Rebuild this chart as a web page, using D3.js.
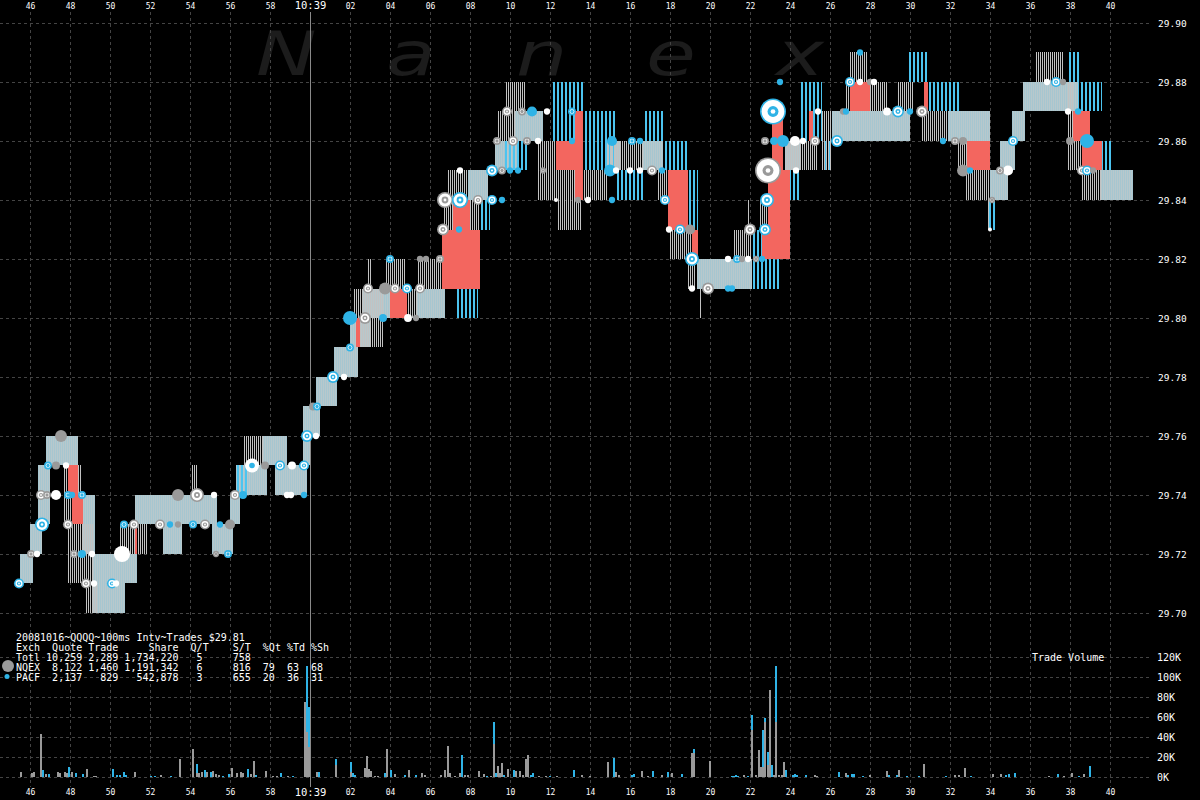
<!DOCTYPE html>
<html><head><meta charset="utf-8">
<script src="https://cdn.jsdelivr.net/npm/d3@7"></script>
<style>html,body{margin:0;padding:0;background:#000;}svg{display:block;}</style>
</head><body>
<script>
// ---------- data (time = seconds after 10:39:00) ----------
const tickTimes = [-14,-12,-10,-8,-6,-4,-2,0,2,4,6,8,10,12,14,16,18,20,22,24,26,28,30,32,34,36,38,40];
const tickLabels = ["46","48","50","52","54","56","58","10:39","02","04","06","08","10","12","14","16","18","20","22","24","26","28","30","32","34","36","38","40"];
const priceTicks = [29.70,29.72,29.74,29.76,29.78,29.80,29.82,29.84,29.86,29.88,29.90];
const volumeTicks = [0,20000,40000,60000,80000,100000,120000];
const volumeTickLabels = ["0K","20K","40K","60K","80K","100K","120K"];

// quote bands: [start, end, low, high, who]  who: b = both exchanges, g = NQEX, c = PACF
const quoteBands = [
[-14.5,-13.85,29.71,29.72,'b'],[-14.0,-13.4,29.72,29.73,'b'],[-13.6,-13.0,29.73,29.75,'b'],
[-13.2,-11.6,29.75,29.76,'b'],[-12.3,-11.4,29.73,29.75,'g'],[-11.35,-10.75,29.72,29.74,'b'],
[-12.1,-10.85,29.71,29.73,'g'],[-11.25,-10.65,29.70,29.71,'g'],[-10.85,-9.25,29.70,29.71,'b'],
[-10.85,-8.65,29.71,29.72,'b'],[-9.5,-8.1,29.72,29.73,'g'],[-8.75,-4.65,29.73,29.74,'b'],
[-7.35,-6.4,29.72,29.73,'b'],[-5.9,-5.6,29.74,29.75,'g'],[-4.9,-3.85,29.72,29.73,'b'],
[-4.0,-3.5,29.73,29.74,'b'],[-3.75,-3.1,29.74,29.75,'c'],[-3.7,-2.15,29.74,29.75,'b'],
[-3.35,-2.35,29.75,29.76,'g'],[-2.35,-1.15,29.75,29.76,'b'],[-1.75,-0.15,29.74,29.75,'b'],
[-0.35,0.0,29.75,29.77,'b'],[-0.25,0.5,29.76,29.77,'b'],[0.3,1.35,29.77,29.78,'b'],
[1.2,2.4,29.78,29.79,'b'],[2.0,3.0,29.79,29.80,'b'],[2.2,2.8,29.80,29.81,'g'],
[2.35,3.65,29.79,29.81,'g'],[2.6,4.0,29.80,29.81,'b'],[2.9,3.1,29.81,29.82,'g'],
[3.75,4.75,29.81,29.82,'g'],[4.75,5.4,29.80,29.81,'g'],[5.35,6.75,29.80,29.81,'b'],
[5.4,6.6,29.81,29.82,'g'],[6.65,7.2,29.83,29.84,'g'],[6.9,7.9,29.84,29.85,'g'],
[7.35,8.4,29.80,29.82,'c'],[8.0,8.5,29.83,29.84,'g'],[7.9,8.9,29.84,29.85,'b'],
[8.5,9.0,29.83,29.84,'c'],[9.25,10.35,29.85,29.86,'b'],[9.65,10.85,29.85,29.86,'c'],
[9.4,10.25,29.86,29.87,'g'],[9.75,10.75,29.87,29.88,'g'],[10.25,11.65,29.86,29.87,'b'],
[11.4,12.35,29.84,29.86,'g'],[12.15,13.65,29.86,29.88,'c'],[12.35,13.6,29.83,29.85,'g'],
[13.65,15.35,29.86,29.87,'c'],[13.65,14.85,29.84,29.85,'g'],[13.65,15.3,29.85,29.86,'c'],
[14.85,16.65,29.85,29.86,'g'],[14.85,15.5,29.85,29.86,'b'],[15.25,16.65,29.84,29.85,'c'],
[16.65,17.65,29.86,29.87,'c'],[16.65,17.65,29.85,29.86,'b'],[17.4,17.9,29.84,29.85,'g'],
[17.65,18.9,29.85,29.86,'c'],[18.9,19.4,29.83,29.85,'c'],[18.0,19.1,29.82,29.83,'g'],
[19.35,22.1,29.81,29.82,'b'],[18.9,19.25,29.81,29.82,'g'],[19.5,19.6,29.80,29.81,'g'],
[21.15,22.1,29.82,29.83,'g'],[22.1,23.5,29.81,29.83,'c'],[21.9,22.0,29.83,29.84,'g'],
[22.5,22.9,29.83,29.84,'g'],[23.5,24.5,29.84,29.85,'c'],[23.75,24.5,29.85,29.86,'b'],
[23.75,25.35,29.85,29.86,'g'],[24.5,25.6,29.86,29.88,'c'],[25.6,26.1,29.85,29.87,'g'],
[25.6,26.1,29.85,29.86,'c'],[26.1,27.0,29.86,29.87,'b'],[26.75,28.0,29.87,29.88,'g'],
[27.0,27.9,29.88,29.89,'g'],[26.85,30.0,29.86,29.87,'b'],[28.0,28.85,29.87,29.88,'g'],
[29.4,30.15,29.87,29.88,'g'],[29.85,30.9,29.88,29.89,'c'],[30.9,32.5,29.87,29.88,'c'],
[30.6,31.9,29.86,29.87,'g'],[31.9,34.0,29.86,29.87,'b'],[32.4,32.9,29.85,29.86,'g'],
[32.75,34.0,29.84,29.85,'g'],[33.85,34.0,29.83,29.84,'g'],[33.9,34.25,29.83,29.84,'c'],
[34.0,34.9,29.84,29.85,'b'],[34.5,35.25,29.85,29.86,'b'],[35.1,35.75,29.86,29.87,'b'],
[35.65,36.85,29.87,29.88,'b'],[36.25,37.65,29.88,29.89,'g'],[36.85,38.4,29.87,29.88,'b'],
[37.9,38.5,29.88,29.89,'c'],[37.9,38.2,29.85,29.88,'g'],[38.4,39.6,29.87,29.88,'c'],
[37.95,38.6,29.85,29.86,'g'],[38.6,39.6,29.84,29.85,'g'],[39.6,40.15,29.85,29.86,'c'],
[39.5,41.15,29.84,29.85,'b']
];

// crossed / locked periods: [start, end, low, high]
const crossedBands = [
[-12.1,-11.6,29.74,29.75],[-11.9,-11.35,29.73,29.74],[-8.75,-8.65,29.72,29.73],
[2.3,2.5,29.79,29.80],[4.0,4.85,29.80,29.81],[6.6,8.5,29.81,29.83],[7.15,8.0,29.83,29.84],
[12.3,13.65,29.85,29.86],[13.25,13.65,29.84,29.87],[17.9,18.9,29.83,29.85],
[19.1,19.4,29.82,29.83],[22.6,23.0,29.82,29.83],[22.9,24.0,29.82,29.85],
[23.1,23.65,29.85,29.87],[24.95,25.15,29.86,29.87],[27.0,28.0,29.87,29.88],
[30.7,30.9,29.87,29.88],[32.85,34.0,29.85,29.86],[38.15,39.0,29.86,29.87],[38.6,39.6,29.85,29.86]
];

// trades: [time, price, size, mark]  N/P = NQEX/PACF ring, n/p solid, w white, W white with PACF centre
const trades = [
[-14.55,29.71,1300,'P'],[-13.95,29.72,800,'N'],[-13.65,29.72,500,'w'],[-13.4,29.73,2500,'P'],
[-13.45,29.74,1300,'N'],[-13.15,29.74,800,'N'],[-12.7,29.74,1300,'w'],[-12.1,29.74,800,'P'],[-11.9,29.74,500,'p'],[-11.4,29.74,800,'P'],
[-13.1,29.75,800,'P'],[-12.7,29.75,800,'n'],[-12.2,29.75,500,'w'],[-12.45,29.76,1800,'n'],[-12.1,29.73,1300,'N'],
[-11.8,29.72,800,'N'],[-11.4,29.72,800,'p'],[-10.9,29.72,500,'w'],
[-11.2,29.71,1300,'N'],[-10.8,29.71,500,'w'],[-9.9,29.71,1300,'P'],[-9.7,29.71,500,'w'],[-9.4,29.72,3300,'w'],
[-9.3,29.73,800,'P'],[-8.8,29.73,1300,'N'],[-7.5,29.73,1300,'N'],[-7.0,29.73,500,'p'],[-6.6,29.73,500,'n'],
[-6.6,29.74,1800,'n'],[-5.65,29.74,2500,'N'],[-4.8,29.74,500,'w'],
[-5.85,29.73,800,'P'],[-5.25,29.73,1300,'N'],[-4.5,29.73,500,'p'],[-4.0,29.73,1300,'n'],
[-4.7,29.72,500,'N'],[-4.1,29.72,800,'P'],[-3.75,29.74,1300,'N'],[-3.35,29.74,800,'p'],
[-2.9,29.75,2500,'W'],[-2.25,29.75,800,'n'],[-1.5,29.75,1300,'P'],[-0.9,29.75,800,'w'],[-0.3,29.75,1300,'P'],
[-1.15,29.74,500,'w'],[-0.95,29.74,500,'w'],[-0.3,29.74,500,'p'],
[-0.15,29.76,1800,'P'],[0.3,29.76,500,'w'],[0.15,29.77,800,'n'],[0.35,29.77,800,'P'],
[1.15,29.78,1800,'P'],[1.7,29.78,500,'w'],[2.0,29.79,800,'P'],
[2.0,29.80,2500,'p'],[2.75,29.80,1800,'N'],[3.65,29.80,800,'p'],[4.9,29.80,800,'w'],[5.3,29.80,500,'n'],
[2.9,29.81,1300,'N'],[3.75,29.81,1800,'n'],[4.25,29.81,1300,'N'],[4.85,29.81,1300,'P'],[5.5,29.81,1300,'N'],
[4.0,29.82,800,'P'],[5.5,29.82,500,'n'],[5.8,29.82,500,'n'],[6.5,29.82,800,'N'],
[6.65,29.83,1800,'N'],[7.45,29.83,500,'p'],
[6.75,29.84,3300,'N'],[7.5,29.84,3300,'P'],[8.4,29.84,1300,'N'],[9.1,29.84,1300,'P'],[9.6,29.84,500,'p'],
[7.5,29.85,500,'w'],[9.1,29.85,1800,'P'],[9.6,29.85,800,'N'],[10.0,29.85,500,'p'],[10.4,29.85,500,'p'],
[9.35,29.86,800,'N'],[10.15,29.86,1300,'N'],[10.85,29.86,800,'N'],[11.4,29.86,500,'w'],
[9.85,29.87,1300,'N'],[10.6,29.87,800,'N'],[11.1,29.87,1300,'p'],[11.85,29.87,500,'w'],
[13.1,29.87,800,'P'],[13.1,29.86,500,'p'],[11.65,29.85,500,'N'],
[12.3,29.84,200,'w'],[13.4,29.84,500,'n'],[13.9,29.84,500,'w'],
[15.1,29.86,1300,'p'],[16.1,29.86,800,'P'],[16.5,29.86,500,'p'],
[15.0,29.85,1800,'p'],[15.3,29.85,500,'w'],[16.0,29.85,500,'w'],[16.5,29.85,500,'w'],[17.1,29.85,1300,'N'],[17.6,29.85,500,'p'],
[15.1,29.84,500,'p'],[17.75,29.84,1300,'P'],
[17.95,29.83,500,'w'],[18.5,29.83,1300,'P'],[19.0,29.83,1300,'n'],[19.1,29.82,2500,'P'],
[19.1,29.81,500,'w'],[19.9,29.81,1800,'N'],[20.9,29.81,500,'p'],[21.1,29.81,500,'p'],
[20.9,29.82,500,'w'],[21.35,29.82,800,'P'],[21.6,29.82,500,'n'],[21.9,29.82,500,'w'],[22.3,29.82,500,'N'],[22.6,29.82,500,'p'],
[22.0,29.83,1800,'N'],[22.75,29.83,1800,'P'],[22.85,29.84,2500,'P'],
[22.9,29.85,8600,'N'],[23.15,29.87,8600,'P'],[23.5,29.88,500,'p'],
[22.75,29.86,800,'N'],[23.2,29.86,800,'p'],[23.65,29.86,1800,'p'],[24.25,29.86,1300,'w'],[24.65,29.86,500,'w'],[25.25,29.86,1300,'N'],
[24.3,29.85,500,'w'],[25.4,29.87,500,'w'],[26.35,29.86,1800,'P'],[26.65,29.87,500,'n'],[26.8,29.87,500,'p'],
[27.0,29.88,1300,'P'],[27.5,29.88,500,'w'],[28.0,29.88,500,'n'],[28.2,29.88,500,'w'],[27.5,29.89,500,'p'],
[28.85,29.87,800,'w'],[29.4,29.87,1800,'P'],[30.0,29.87,500,'p'],[30.6,29.87,1800,'N'],
[31.65,29.86,500,'p'],[32.25,29.86,800,'N'],[32.65,29.86,800,'n'],[32.65,29.85,1800,'n'],[33.0,29.85,500,'p'],
[35.15,29.86,1300,'P'],[34.5,29.85,800,'N'],[34.9,29.85,1300,'w'],[34.1,29.84,500,'N'],[34.0,29.83,200,'w'],
[36.85,29.88,500,'w'],[37.3,29.88,1300,'P'],[37.65,29.88,500,'n'],[37.9,29.87,500,'w'],[38.4,29.87,500,'p'],
[38.0,29.86,800,'n'],[38.85,29.86,2500,'p'],[38.6,29.85,1300,'N'],[38.85,29.85,1300,'P'],[39.15,29.85,500,'n']
];

// trade volume per 100ms interval (thousands of shares)
const volTimes = [-14.5,-13.95,-13.85,-13.5,-13.4,-13.25,-13.1,-12.65,-12.55,-12.3,-12.2,-12.1,-11.95,-11.75,-11.4,-11.2,-10.85,-10.75,
-9.9,-9.7,-9.55,-9.35,-9.25,-8.8,-8.0,-7.8,-7.5,-7.0,-6.55,-5.9,-5.7,-5.6,-5.45,-5.3,-5.2,-5.0,-4.9,-4.75,-4.6,-4.4,-4.1,-3.95,-3.7,-3.5,-3.4,
-3.15,-3.0,-2.85,-2.75,-2.25,-1.9,-1.7,-1.5,-1.15,-0.9,-0.3,-0.2,-0.1,0.3,0.4,1.25,2.0,2.1,2.2,2.7,2.8,2.9,3.0,3.2,3.35,
3.7,3.8,4.0,4.2,4.7,4.9,5.25,5.55,5.7,6.5,6.7,6.85,6.95,7.2,7.45,7.55,7.7,7.85,8.4,8.65,8.8,9.0,9.15,9.25,9.35,9.45,9.55,9.65,
9.85,10.15,10.25,10.45,10.6,10.75,10.85,11.0,11.1,11.4,11.75,11.95,12.3,13.15,13.55,13.95,14.85,15.15,15.25,15.4,16.05,16.15,16.55,
16.85,17.1,17.55,17.85,18.05,18.55,19.05,19.15,19.95,21.05,21.15,21.25,21.35,21.65,21.85,22.05,22.25,22.4,22.5,22.6,22.7,22.85,
22.95,23.05,23.15,23.25,23.4,23.55,23.65,23.75,24.1,24.2,24.3,24.75,25.2,25.3,26.4,26.75,26.85,27.05,27.15,27.6,27.95,28.8,28.9,
29.3,29.4,29.8,30.4,30.65,31.75,32.2,32.4,32.7,33.0,34.1,34.5,34.75,34.9,35.2,36.9,37.35,37.65,38.05,38.4,38.65,38.95];
const volNQEX = [5,4,5,43,0,3,0,5,4,5,4,0,5,0,0,8,1,1,
0,0,0,0,0,5,0,0,2,0,18,28,4,4,5,0,5,0,6,3,2,0,0,9,4,5,4,
0,3,16,0,6,1,1,0,1,0,75,45,30,5,0,12,5,0,0,9,21,8,6,1,1,
0,28,0,3,0,7,0,4,2,2,7,31,4,1,4,0,2,2,6,3,0,1,33,0,11,4,14,0,
8,0,6,6,2,18,22,0,0,1,1,0,1,0,2,1,15,0,5,2,0,0,6,
1,0,2,0,4,0,24,24,16,0,0,0,0,2,0,47,2,27,10,10,55,12,
87,0,2,55,2,2,15,0,0,0,0,0,2,1,0,4,0,0,0,0,2,6,0,
0,7,0,0,13,0,2,2,9,0,3,3,0,0,0,1,0,1,4,0,3,0];
const volPACF = [0,0,0,0,7,0,3,0,0,0,0,10,0,4,3,0,0,0,
8,2,2,5,2,0,1,1,0,1,0,0,9,0,0,7,0,5,0,0,0,1,3,0,0,0,0,
8,0,0,2,0,0,0,4,0,1,0,66,40,0,5,6,10,4,2,0,0,0,0,0,0,
4.5,0,7,0,2,0,2,0,0,0,0,0,0,0,0,22,0,0,0,0,1,0,22,4,0,0,0,2,
0,7,0,0,0,0,0,2,4,0,0,1,0,7,0,0,0,19,0,0,2,3,0,
0,6,0,5,0,3,0,4,0,1,1,2,1,0,1,15,0,0,0,37,4,13,
0,12,0,56,0,0,0,7,2,3,2,2,0,0,5,0,2,3,3,1,0,0,2,
2,0,1,1,0,1,0,0,0,1,0,0,2,3,4,0,3,0,0,1,0,11];

const legendTitle = "20081016~QQQQ~100ms Intv~Trades $29.81";
const legendLines = [
"Exch  Quote Trade     Share  Q/T    S/T  %Qt %Td %Sh",
"Totl 10,259 2,289 1,734,220   5     758",
"NQEX  8,122 1,460 1,191,342   6     816  79  63  68",
"PACF  2,137   829   542,878   3     655  20  36  31"
];
const watermarkLetters = ["N","a","n","e","x"];

// ---------- drawing ----------
const W = 1200, H = 800;
const GRAY = "#c2c2c2", BLUE = "#4cc4f0", BOTH = "#a6c6d0", BOTH2 = "#b8c8cc", RED = "#f3665f", TGRAY = "#9a9a9a", TBLUE = "#2fb3e6";
const x = d3.scaleLinear().domain([-15.5, 44.5]).range([0, 1200]);
const y = d3.scaleLinear().domain([29.70, 29.90]).range([613, 23]);
const yv = d3.scaleLinear().domain([0, 120000]).range([777, 657]);
const rSize = d3.scaleSqrt().domain([0, 10000]).range([0, 14]);

const svg = d3.select("body").append("svg").attr("width", W).attr("height", H)
  .attr("shape-rendering", "crispEdges")
  .style("background", "#000").style("font-family", "'DejaVu Sans Mono', monospace");
svg.append("rect").attr("width", W).attr("height", H).attr("fill", "#000");

// fills for quote bands: NQEX-only = fine gray lines, PACF-only = blue lines, both = pale blue-gray
const defs = svg.append("defs");
const pat = (id, w, cols) => {
  const p = defs.append("pattern").attr("id", id).attr("patternUnits", "userSpaceOnUse")
    .attr("x", 0).attr("y", 0).attr("width", w).attr("height", 4);
  cols.forEach(([cx, cw, col]) => p.append("rect").attr("x", cx).attr("y", 0).attr("width", cw).attr("height", 4).attr("fill", col));
};
pat("stripe-g", 2, [[0, 1, GRAY]]);
pat("stripe-c", 4, [[1, 2, BLUE]]);
pat("stripe-b", 4, [[0, 4, BOTH], [1, 1, BOTH2], [3, 1, BOTH2]]);

// watermark
const wm = svg.append("g").attr("shape-rendering", "auto");
wm.selectAll("text").data(watermarkLetters).join("text")
  .attr("transform", (d, i) => `translate(${256 + i * 130},75) scale(1.35,1)`)
  .attr("font-family", "'DejaVu Sans', sans-serif").attr("font-style", "oblique")
  .attr("font-size", 60).attr("fill", "#1c1c1c").text(d => d);

// grid
const grid = svg.append("g").attr("stroke", "#444").attr("stroke-dasharray", "3,3").attr("stroke-width", 1);
grid.append("g").selectAll("line").data(tickTimes.filter(d => d !== 0)).join("line")
  .attr("x1", d => Math.round(x(d)) + 0.5).attr("x2", d => Math.round(x(d)) + 0.5)
  .attr("y1", 12).attr("y2", 787);
grid.append("g").selectAll("line").data(priceTicks).join("line")
  .attr("x1", 0).attr("x2", 1152)
  .attr("y1", d => Math.round(y(d)) + 0.5).attr("y2", d => Math.round(y(d)) + 0.5);
grid.append("g").selectAll("line").data(volumeTicks).join("line")
  .attr("x1", 0).attr("x2", 1152)
  .attr("y1", d => Math.round(yv(d)) + 0.5).attr("y2", d => Math.round(yv(d)) + 0.5);
svg.append("line").attr("x1", Math.round(x(0)) + 0.5).attr("x2", Math.round(x(0)) + 0.5)
  .attr("y1", 12).attr("y2", 787).attr("stroke", "#8a8a8a").attr("stroke-width", 1);

// quote bands (both first, then single-exchange lines on top)
const order = {b: 0, c: 1, g: 2};
svg.append("g").selectAll("rect").data(quoteBands.slice().sort((a, b) => order[a[4]] - order[b[4]])).join("rect")
  .attr("x", d => Math.round(x(d[0]))).attr("width", d => Math.round(x(d[1])) - Math.round(x(d[0])))
  .attr("y", d => Math.round(y(d[3]))).attr("height", d => Math.round(y(d[2])) - Math.round(y(d[3])))
  .attr("fill", d => `url(#stripe-${d[4]})`);

// crossed periods
svg.append("g").selectAll("rect").data(crossedBands).join("rect")
  .attr("x", d => Math.round(x(d[0]))).attr("width", d => Math.round(x(d[1])) - Math.round(x(d[0])))
  .attr("y", d => Math.round(y(d[3]))).attr("height", d => Math.round(y(d[2])) - Math.round(y(d[3])))
  .attr("fill", RED);

// trades
const tg = svg.append("g").attr("shape-rendering", "auto");
const sorted = trades.slice().sort((a, b) => b[2] - a[2]);
sorted.forEach(([t, p, s, m]) => {
  const cx = x(t), cy = y(p), r = Math.max(2, rSize(s));
  const g = tg.append("g");
  if (m === 'N' || m === 'P') {
    const col = m === 'N' ? TGRAY : TBLUE;
    g.append("circle").attr("cx", cx).attr("cy", cy).attr("r", r).attr("fill", col);
    g.append("circle").attr("cx", cx).attr("cy", cy).attr("r", Math.max(1, r - 1.6)).attr("fill", "#fff");
    g.append("circle").attr("cx", cx).attr("cy", cy).attr("r", Math.max(0.8, r * 0.42)).attr("fill", col);
    if (r > 5) g.append("circle").attr("cx", cx).attr("cy", cy).attr("r", r * 0.18).attr("fill", "#fff");
  } else if (m === 'W') {
    g.append("circle").attr("cx", cx).attr("cy", cy).attr("r", r).attr("fill", "#fff");
    g.append("circle").attr("cx", cx).attr("cy", cy).attr("r", r * 0.4).attr("fill", TBLUE);
  } else {
    const col = m === 'n' ? TGRAY : m === 'p' ? TBLUE : "#fff";
    g.append("circle").attr("cx", cx).attr("cy", cy).attr("r", r).attr("fill", col);
  }
});

// volume bars (stacked: NQEX then PACF)
const vols = volTimes.map((t, i) => ({t, n: volNQEX[i] * 1000, p: volPACF[i] * 1000}));
const vg = svg.append("g");
vg.append("g").selectAll("rect").data(vols.filter(d => d.n > 0)).join("rect")
  .attr("x", d => Math.round(x(d.t))).attr("width", 2)
  .attr("y", d => Math.round(yv(d.n))).attr("height", d => Math.round(yv(0)) - Math.round(yv(d.n)))
  .attr("fill", TGRAY);
vg.append("g").selectAll("rect").data(vols.filter(d => d.p > 0)).join("rect")
  .attr("x", d => Math.round(x(d.t))).attr("width", 2)
  .attr("y", d => Math.round(yv(d.n + d.p))).attr("height", d => Math.round(yv(d.n)) - Math.round(yv(d.n + d.p)))
  .attr("fill", TBLUE);

// axes
function styleAxis(g) {
  g.select(".domain").remove();
  g.attr("shape-rendering", "auto");
  g.selectAll("text").attr("fill", "#fff").attr("font-family", "'DejaVu Sans Mono', monospace");
}
const topAxis = svg.append("g").attr("transform", "translate(0,9)")
  .call(d3.axisTop(x).tickValues(tickTimes).tickFormat((d, i) => tickLabels[i]).tickSize(0).tickPadding(0))
  .call(styleAxis);
const botAxis = svg.append("g").attr("transform", "translate(0,789)")
  .call(d3.axisBottom(x).tickValues(tickTimes).tickFormat((d, i) => tickLabels[i]).tickSize(0).tickPadding(0))
  .call(styleAxis);
[topAxis, botAxis].forEach(a => a.selectAll("text").attr("font-size", d => d === 0 ? 10.5 : 8));
svg.append("g").attr("transform", "translate(1158,0)")
  .call(d3.axisRight(y).tickValues(priceTicks).tickFormat(d3.format(".2f")).tickSize(0).tickPadding(0))
  .call(styleAxis).selectAll("text").attr("font-size", 9.5);
svg.append("g").attr("transform", "translate(1157,0)")
  .call(d3.axisRight(yv).tickValues(volumeTicks).tickFormat((d, i) => volumeTickLabels[i]).tickSize(0).tickPadding(0))
  .call(styleAxis).selectAll("text").attr("font-size", 10);

svg.append("text").attr("x", 1032).attr("y", 661).attr("fill", "#fff").attr("font-size", 10)
  .style("white-space", "pre").text("Trade Volume");

// legend
const lg = svg.append("g").attr("fill", "#fff").attr("font-size", 10);
lg.append("text").attr("x", 16).attr("y", 641).style("white-space", "pre").text(legendTitle);
lg.append("g").selectAll("text").data(legendLines).join("text")
  .attr("x", 16).attr("y", (d, i) => 651 + i * 10).style("white-space", "pre").text(d => d);
const ls = svg.append("g").attr("shape-rendering", "auto");
ls.append("circle").attr("cx", 8).attr("cy", 666).attr("r", 6).attr("fill", TGRAY);
ls.append("circle").attr("cx", 7).attr("cy", 676.5).attr("r", 2.5).attr("fill", TBLUE);
</script>
</body></html>
